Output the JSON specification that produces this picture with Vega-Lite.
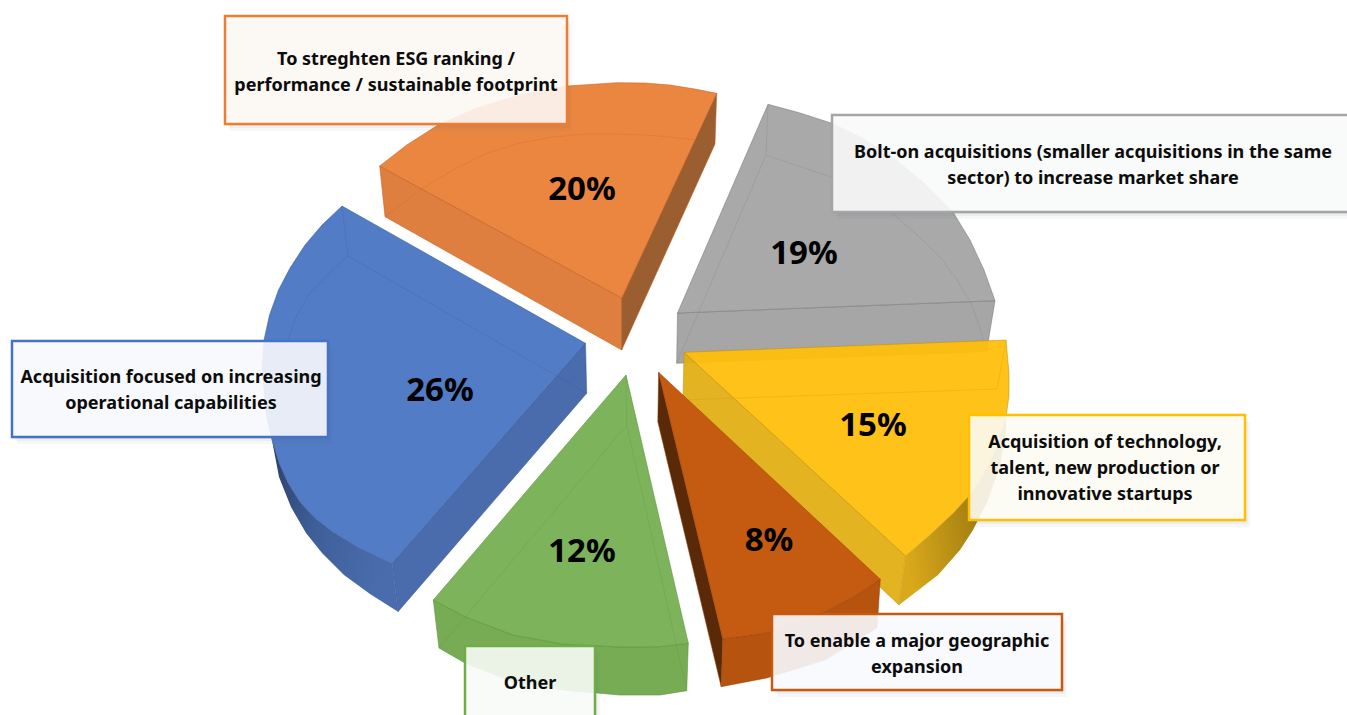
{
  "$schema": "https://vega.github.io/schema/vega-lite/v6.json",
  "width": 1347,
  "height": 715,
  "padding": 0,
  "autosize": {"type": "none"},
  "background": "white",
  "view": {"stroke": null},
  "datasets": {
    "slices": [
      {"slice": "Bolt-on", "share": 0.19, "label": "Bolt-on acquisitions (smaller acquisitions in the same\nsector) to increase market share", "shareX": 804, "shareY": 254, "boxLeft": 832, "boxRight": 1352, "boxTop": 115, "boxBottom": 212, "labelX": 1093, "labelY": 153},
      {"slice": "ESG", "share": 0.20, "label": "To streghten ESG ranking /\nperformance / sustainable footprint", "shareX": 582, "shareY": 190, "boxLeft": 225, "boxRight": 567, "boxTop": 16, "boxBottom": 124, "labelX": 396, "labelY": 60},
      {"slice": "Operational", "share": 0.26, "label": "Acquisition focused on increasing\noperational capabilities", "shareX": 440, "shareY": 391, "boxLeft": 12, "boxRight": 328, "boxTop": 341, "boxBottom": 437, "labelX": 171, "labelY": 378},
      {"slice": "Other", "share": 0.12, "label": "Other", "shareX": 582, "shareY": 552, "boxLeft": 465, "boxRight": 595, "boxTop": 646, "boxBottom": 722, "labelX": 530, "labelY": 684},
      {"slice": "Technology", "share": 0.15, "label": "Acquisition of technology,\ntalent, new production or\ninnovative startups", "shareX": 873, "shareY": 426, "boxLeft": 969, "boxRight": 1245, "boxTop": 415, "boxBottom": 520, "labelX": 1105, "labelY": 443},
      {"slice": "Geographic", "share": 0.08, "label": "To enable a major geographic\nexpansion", "shareX": 769, "shareY": 541, "boxLeft": 772, "boxRight": 1062, "boxTop": 614, "boxBottom": 690, "labelX": 917, "labelY": 642}
    ],
    "faces": [
      {"slice":"Bolt-on","face":"Bolt-on wall","tone":"greyWall","seq":0,"x":677.5,"y":313},
      {"slice":"Bolt-on","face":"Bolt-on wall","tone":"greyWall","seq":1,"x":995,"y":300.7},
      {"slice":"Bolt-on","face":"Bolt-on wall","tone":"greyWall","seq":2,"x":986.5,"y":351.7},
      {"slice":"Bolt-on","face":"Bolt-on wall","tone":"greyWall","seq":3,"x":676.7,"y":363.3},
      {"slice":"Bolt-on","face":"Bolt-on wall","tone":"greyWall","seq":4,"x":677.5,"y":313},
      {"slice":"Bolt-on","face":"Bolt-on top","tone":"greyTop","seq":0,"x":677.5,"y":313},
      {"slice":"Bolt-on","face":"Bolt-on top","tone":"greyTop","seq":1,"x":995,"y":300.7},
      {"slice":"Bolt-on","face":"Bolt-on top","tone":"greyTop","seq":2,"x":984,"y":270},
      {"slice":"Bolt-on","face":"Bolt-on top","tone":"greyTop","seq":3,"x":970,"y":240},
      {"slice":"Bolt-on","face":"Bolt-on top","tone":"greyTop","seq":4,"x":953.6,"y":213},
      {"slice":"Bolt-on","face":"Bolt-on top","tone":"greyTop","seq":5,"x":925,"y":184},
      {"slice":"Bolt-on","face":"Bolt-on top","tone":"greyTop","seq":6,"x":892,"y":156.7},
      {"slice":"Bolt-on","face":"Bolt-on top","tone":"greyTop","seq":7,"x":862,"y":138},
      {"slice":"Bolt-on","face":"Bolt-on top","tone":"greyTop","seq":8,"x":831,"y":123},
      {"slice":"Bolt-on","face":"Bolt-on top","tone":"greyTop","seq":9,"x":800,"y":113},
      {"slice":"Bolt-on","face":"Bolt-on top","tone":"greyTop","seq":10,"x":768,"y":104.3},
      {"slice":"Bolt-on","face":"Bolt-on top","tone":"greyTop","seq":11,"x":677.5,"y":313},
      {"slice":"Bolt-on","face":"Bolt-on back","tone":"edge","seq":0,"x":768,"y":104.3},
      {"slice":"Bolt-on","face":"Bolt-on back","tone":"edge","seq":1,"x":766,"y":155},
      {"slice":"Bolt-on","face":"Bolt-on back","tone":"edge","seq":2,"x":676.7,"y":363.3},
      {"slice":"Bolt-on","face":"Bolt-on rim","tone":"edge","seq":0,"x":766,"y":155},
      {"slice":"Bolt-on","face":"Bolt-on rim","tone":"edge","seq":1,"x":831,"y":177},
      {"slice":"Bolt-on","face":"Bolt-on rim","tone":"edge","seq":2,"x":862,"y":193},
      {"slice":"Bolt-on","face":"Bolt-on rim","tone":"edge","seq":3,"x":892,"y":213},
      {"slice":"Bolt-on","face":"Bolt-on rim","tone":"edge","seq":4,"x":917,"y":235},
      {"slice":"Bolt-on","face":"Bolt-on rim","tone":"edge","seq":5,"x":940,"y":257},
      {"slice":"Bolt-on","face":"Bolt-on rim","tone":"edge","seq":6,"x":957,"y":280},
      {"slice":"Bolt-on","face":"Bolt-on rim","tone":"edge","seq":7,"x":971,"y":303},
      {"slice":"Bolt-on","face":"Bolt-on rim","tone":"edge","seq":8,"x":980,"y":328},
      {"slice":"Bolt-on","face":"Bolt-on rim","tone":"edge","seq":9,"x":986.5,"y":351.7},

      {"slice":"ESG","face":"ESG front","tone":"orangeFront","seq":0,"x":379.7,"y":166},
      {"slice":"ESG","face":"ESG front","tone":"orangeFront","seq":1,"x":621.7,"y":298},
      {"slice":"ESG","face":"ESG front","tone":"orangeFront","seq":2,"x":621.7,"y":350},
      {"slice":"ESG","face":"ESG front","tone":"orangeFront","seq":3,"x":385,"y":216.7},
      {"slice":"ESG","face":"ESG front","tone":"orangeFront","seq":4,"x":379.7,"y":166},
      {"slice":"ESG","face":"ESG side","tone":"orangeSide","seq":0,"x":621.7,"y":298},
      {"slice":"ESG","face":"ESG side","tone":"orangeSide","seq":1,"x":716.7,"y":93.3},
      {"slice":"ESG","face":"ESG side","tone":"orangeSide","seq":2,"x":715,"y":144},
      {"slice":"ESG","face":"ESG side","tone":"orangeSide","seq":3,"x":621.7,"y":350},
      {"slice":"ESG","face":"ESG side","tone":"orangeSide","seq":4,"x":621.7,"y":298},
      {"slice":"ESG","face":"ESG top","tone":"orangeTop","seq":0,"x":621.7,"y":298},
      {"slice":"ESG","face":"ESG top","tone":"orangeTop","seq":1,"x":379.7,"y":166},
      {"slice":"ESG","face":"ESG top","tone":"orangeTop","seq":2,"x":406.7,"y":145},
      {"slice":"ESG","face":"ESG top","tone":"orangeTop","seq":3,"x":438,"y":125},
      {"slice":"ESG","face":"ESG top","tone":"orangeTop","seq":4,"x":477,"y":108},
      {"slice":"ESG","face":"ESG top","tone":"orangeTop","seq":5,"x":520,"y":95},
      {"slice":"ESG","face":"ESG top","tone":"orangeTop","seq":6,"x":567,"y":86},
      {"slice":"ESG","face":"ESG top","tone":"orangeTop","seq":7,"x":616.7,"y":82.7},
      {"slice":"ESG","face":"ESG top","tone":"orangeTop","seq":8,"x":645,"y":83},
      {"slice":"ESG","face":"ESG top","tone":"orangeTop","seq":9,"x":670,"y":85},
      {"slice":"ESG","face":"ESG top","tone":"orangeTop","seq":10,"x":695,"y":89},
      {"slice":"ESG","face":"ESG top","tone":"orangeTop","seq":11,"x":716.7,"y":93.3},
      {"slice":"ESG","face":"ESG top","tone":"orangeTop","seq":12,"x":621.7,"y":298},
      {"slice":"ESG","face":"ESG rim","tone":"edge","seq":0,"x":385,"y":216.7},
      {"slice":"ESG","face":"ESG rim","tone":"edge","seq":1,"x":423,"y":188},
      {"slice":"ESG","face":"ESG rim","tone":"edge","seq":2,"x":455,"y":169},
      {"slice":"ESG","face":"ESG rim","tone":"edge","seq":3,"x":487,"y":153},
      {"slice":"ESG","face":"ESG rim","tone":"edge","seq":4,"x":520,"y":143},
      {"slice":"ESG","face":"ESG rim","tone":"edge","seq":5,"x":553,"y":137},
      {"slice":"ESG","face":"ESG rim","tone":"edge","seq":6,"x":585,"y":134},
      {"slice":"ESG","face":"ESG rim","tone":"edge","seq":7,"x":617,"y":134},
      {"slice":"ESG","face":"ESG rim","tone":"edge","seq":8,"x":645,"y":135},
      {"slice":"ESG","face":"ESG rim","tone":"edge","seq":9,"x":670,"y":137},
      {"slice":"ESG","face":"ESG rim","tone":"edge","seq":10,"x":695,"y":140},
      {"slice":"ESG","face":"ESG rim","tone":"edge","seq":11,"x":715,"y":144},

      {"slice":"Operational","face":"Operational side","tone":"blueSide","seq":0,"x":585.5,"y":343.3},
      {"slice":"Operational","face":"Operational side","tone":"blueSide","seq":1,"x":392.3,"y":563.3},
      {"slice":"Operational","face":"Operational side","tone":"blueSide","seq":2,"x":398,"y":611.7},
      {"slice":"Operational","face":"Operational side","tone":"blueSide","seq":3,"x":586.7,"y":393.3},
      {"slice":"Operational","face":"Operational side","tone":"blueSide","seq":4,"x":585.5,"y":343.3},
      {"slice":"Operational","face":"Operational top","tone":"blueTop","seq":0,"x":585.5,"y":343.3},
      {"slice":"Operational","face":"Operational top","tone":"blueTop","seq":1,"x":342,"y":206},
      {"slice":"Operational","face":"Operational top","tone":"blueTop","seq":2,"x":322,"y":225},
      {"slice":"Operational","face":"Operational top","tone":"blueTop","seq":3,"x":305,"y":245},
      {"slice":"Operational","face":"Operational top","tone":"blueTop","seq":4,"x":290,"y":268},
      {"slice":"Operational","face":"Operational top","tone":"blueTop","seq":5,"x":278.5,"y":290},
      {"slice":"Operational","face":"Operational top","tone":"blueTop","seq":6,"x":269.5,"y":315},
      {"slice":"Operational","face":"Operational top","tone":"blueTop","seq":7,"x":264,"y":340},
      {"slice":"Operational","face":"Operational top","tone":"blueTop","seq":8,"x":262,"y":367},
      {"slice":"Operational","face":"Operational top","tone":"blueTop","seq":9,"x":264.5,"y":395},
      {"slice":"Operational","face":"Operational top","tone":"blueTop","seq":10,"x":267,"y":418},
      {"slice":"Operational","face":"Operational top","tone":"blueTop","seq":11,"x":272,"y":440},
      {"slice":"Operational","face":"Operational top","tone":"blueTop","seq":12,"x":279,"y":463},
      {"slice":"Operational","face":"Operational top","tone":"blueTop","seq":13,"x":288,"y":483},
      {"slice":"Operational","face":"Operational top","tone":"blueTop","seq":14,"x":300,"y":502},
      {"slice":"Operational","face":"Operational top","tone":"blueTop","seq":15,"x":315,"y":518},
      {"slice":"Operational","face":"Operational top","tone":"blueTop","seq":16,"x":333,"y":532},
      {"slice":"Operational","face":"Operational top","tone":"blueTop","seq":17,"x":358,"y":547},
      {"slice":"Operational","face":"Operational top","tone":"blueTop","seq":18,"x":392.3,"y":563.3},
      {"slice":"Operational","face":"Operational top","tone":"blueTop","seq":19,"x":585.5,"y":343.3},
      {"slice":"Operational","face":"Operational back","tone":"edge","seq":0,"x":342,"y":206},
      {"slice":"Operational","face":"Operational back","tone":"edge","seq":1,"x":348,"y":256},
      {"slice":"Operational","face":"Operational back","tone":"edge","seq":2,"x":586.7,"y":393.3},
      {"slice":"Operational","face":"Operational rim","tone":"edge","seq":0,"x":348,"y":256},
      {"slice":"Operational","face":"Operational rim","tone":"edge","seq":1,"x":328,"y":274},
      {"slice":"Operational","face":"Operational rim","tone":"edge","seq":2,"x":310,"y":293},
      {"slice":"Operational","face":"Operational rim","tone":"edge","seq":3,"x":297,"y":315},
      {"slice":"Operational","face":"Operational rim","tone":"edge","seq":4,"x":288,"y":340},
      {"slice":"Operational","face":"Operational rim","tone":"edge","seq":5,"x":284,"y":365},
      {"slice":"Operational","face":"Operational corner","tone":"edge","seq":0,"x":392.3,"y":563.3},
      {"slice":"Operational","face":"Operational corner","tone":"edge","seq":1,"x":398,"y":611.7},

      {"slice":"Other","face":"Other wall","tone":"greenWall","seq":0,"x":433.3,"y":600},
      {"slice":"Other","face":"Other wall","tone":"greenWall","seq":1,"x":465,"y":616.7},
      {"slice":"Other","face":"Other wall","tone":"greenWall","seq":2,"x":513,"y":635},
      {"slice":"Other","face":"Other wall","tone":"greenWall","seq":3,"x":563,"y":644},
      {"slice":"Other","face":"Other wall","tone":"greenWall","seq":4,"x":620,"y":647},
      {"slice":"Other","face":"Other wall","tone":"greenWall","seq":5,"x":660,"y":646.7},
      {"slice":"Other","face":"Other wall","tone":"greenWall","seq":6,"x":688.3,"y":643.3},
      {"slice":"Other","face":"Other wall","tone":"greenWall","seq":7,"x":686.7,"y":690.7},
      {"slice":"Other","face":"Other wall","tone":"greenWall","seq":8,"x":660,"y":695},
      {"slice":"Other","face":"Other wall","tone":"greenWall","seq":9,"x":620,"y":695},
      {"slice":"Other","face":"Other wall","tone":"greenWall","seq":10,"x":563,"y":690},
      {"slice":"Other","face":"Other wall","tone":"greenWall","seq":11,"x":513,"y":682},
      {"slice":"Other","face":"Other wall","tone":"greenWall","seq":12,"x":465,"y":663},
      {"slice":"Other","face":"Other wall","tone":"greenWall","seq":13,"x":439,"y":648},
      {"slice":"Other","face":"Other wall","tone":"greenWall","seq":14,"x":433.3,"y":600},
      {"slice":"Other","face":"Other top","tone":"greenTop","seq":0,"x":626,"y":375},
      {"slice":"Other","face":"Other top","tone":"greenTop","seq":1,"x":433.3,"y":600},
      {"slice":"Other","face":"Other top","tone":"greenTop","seq":2,"x":465,"y":616.7},
      {"slice":"Other","face":"Other top","tone":"greenTop","seq":3,"x":513,"y":635},
      {"slice":"Other","face":"Other top","tone":"greenTop","seq":4,"x":563,"y":644},
      {"slice":"Other","face":"Other top","tone":"greenTop","seq":5,"x":620,"y":647},
      {"slice":"Other","face":"Other top","tone":"greenTop","seq":6,"x":660,"y":646.7},
      {"slice":"Other","face":"Other top","tone":"greenTop","seq":7,"x":688.3,"y":643.3},
      {"slice":"Other","face":"Other top","tone":"greenTop","seq":8,"x":626,"y":375},
      {"slice":"Other","face":"Other back left","tone":"edge","seq":0,"x":439,"y":648},
      {"slice":"Other","face":"Other back left","tone":"edge","seq":1,"x":626.7,"y":425},
      {"slice":"Other","face":"Other back left","tone":"edge","seq":2,"x":626,"y":375},
      {"slice":"Other","face":"Other back right","tone":"edge","seq":0,"x":626.7,"y":425},
      {"slice":"Other","face":"Other back right","tone":"edge","seq":1,"x":686.7,"y":690.7},

      {"slice":"Technology","face":"Technology front","tone":"yellowFront","seq":0,"x":684,"y":352.3},
      {"slice":"Technology","face":"Technology front","tone":"yellowFront","seq":1,"x":905.6,"y":556},
      {"slice":"Technology","face":"Technology front","tone":"yellowFront","seq":2,"x":899,"y":605},
      {"slice":"Technology","face":"Technology front","tone":"yellowFront","seq":3,"x":683,"y":400},
      {"slice":"Technology","face":"Technology front","tone":"yellowFront","seq":4,"x":684,"y":352.3},
      {"slice":"Technology","face":"Technology top","tone":"yellowTop","seq":0,"x":905.6,"y":556},
      {"slice":"Technology","face":"Technology top","tone":"yellowTop","seq":1,"x":684,"y":352.3},
      {"slice":"Technology","face":"Technology top","tone":"yellowTop","seq":2,"x":1006,"y":340},
      {"slice":"Technology","face":"Technology top","tone":"yellowTop","seq":3,"x":1009,"y":373},
      {"slice":"Technology","face":"Technology top","tone":"yellowTop","seq":4,"x":1009,"y":396},
      {"slice":"Technology","face":"Technology top","tone":"yellowTop","seq":5,"x":1006,"y":416.7},
      {"slice":"Technology","face":"Technology top","tone":"yellowTop","seq":6,"x":998,"y":445},
      {"slice":"Technology","face":"Technology top","tone":"yellowTop","seq":7,"x":984.6,"y":473},
      {"slice":"Technology","face":"Technology top","tone":"yellowTop","seq":8,"x":970,"y":495},
      {"slice":"Technology","face":"Technology top","tone":"yellowTop","seq":9,"x":953.5,"y":513},
      {"slice":"Technology","face":"Technology top","tone":"yellowTop","seq":10,"x":930,"y":535},
      {"slice":"Technology","face":"Technology top","tone":"yellowTop","seq":11,"x":905.6,"y":556},
      {"slice":"Technology","face":"Technology back","tone":"edge","seq":0,"x":683,"y":400},
      {"slice":"Technology","face":"Technology back","tone":"edge","seq":1,"x":997,"y":389},
      {"slice":"Technology","face":"Technology back","tone":"edge","seq":2,"x":1006,"y":340},

      {"slice":"Geographic","face":"Geographic side","tone":"rustSide","seq":0,"x":658.6,"y":372.3},
      {"slice":"Geographic","face":"Geographic side","tone":"rustSide","seq":1,"x":722.8,"y":639},
      {"slice":"Geographic","face":"Geographic side","tone":"rustSide","seq":2,"x":721.2,"y":686.7},
      {"slice":"Geographic","face":"Geographic side","tone":"rustSide","seq":3,"x":657.8,"y":421.7},
      {"slice":"Geographic","face":"Geographic side","tone":"rustSide","seq":4,"x":658.6,"y":372.3},
      {"slice":"Geographic","face":"Geographic wall","tone":"rustWall","seq":0,"x":722.8,"y":639},
      {"slice":"Geographic","face":"Geographic wall","tone":"rustWall","seq":1,"x":766.7,"y":633},
      {"slice":"Geographic","face":"Geographic wall","tone":"rustWall","seq":2,"x":825,"y":611.7},
      {"slice":"Geographic","face":"Geographic wall","tone":"rustWall","seq":3,"x":855,"y":596},
      {"slice":"Geographic","face":"Geographic wall","tone":"rustWall","seq":4,"x":880.3,"y":579.3},
      {"slice":"Geographic","face":"Geographic wall","tone":"rustWall","seq":5,"x":877,"y":628},
      {"slice":"Geographic","face":"Geographic wall","tone":"rustWall","seq":6,"x":825,"y":660},
      {"slice":"Geographic","face":"Geographic wall","tone":"rustWall","seq":7,"x":766.7,"y":678},
      {"slice":"Geographic","face":"Geographic wall","tone":"rustWall","seq":8,"x":721.2,"y":686.7},
      {"slice":"Geographic","face":"Geographic wall","tone":"rustWall","seq":9,"x":722.8,"y":639},
      {"slice":"Geographic","face":"Geographic top","tone":"rustTop","seq":0,"x":658.6,"y":372.3},
      {"slice":"Geographic","face":"Geographic top","tone":"rustTop","seq":1,"x":880.3,"y":579.3},
      {"slice":"Geographic","face":"Geographic top","tone":"rustTop","seq":2,"x":855,"y":596},
      {"slice":"Geographic","face":"Geographic top","tone":"rustTop","seq":3,"x":825,"y":611.7},
      {"slice":"Geographic","face":"Geographic top","tone":"rustTop","seq":4,"x":795,"y":624},
      {"slice":"Geographic","face":"Geographic top","tone":"rustTop","seq":5,"x":766.7,"y":633},
      {"slice":"Geographic","face":"Geographic top","tone":"rustTop","seq":6,"x":722.8,"y":639},
      {"slice":"Geographic","face":"Geographic top","tone":"rustTop","seq":7,"x":658.6,"y":372.3}
    ],
    "shadedWalls": [
      {"slice":"Operational","seq":0,"x":272,"y":440},
      {"slice":"Operational","seq":1,"x":279,"y":463},
      {"slice":"Operational","seq":2,"x":288,"y":483},
      {"slice":"Operational","seq":3,"x":300,"y":502},
      {"slice":"Operational","seq":4,"x":315,"y":518},
      {"slice":"Operational","seq":5,"x":333,"y":532},
      {"slice":"Operational","seq":6,"x":358,"y":547},
      {"slice":"Operational","seq":7,"x":392.3,"y":563.3},
      {"slice":"Operational","seq":8,"x":398,"y":611.7},
      {"slice":"Operational","seq":9,"x":370,"y":594},
      {"slice":"Operational","seq":10,"x":344,"y":575},
      {"slice":"Operational","seq":11,"x":322,"y":553},
      {"slice":"Operational","seq":12,"x":306,"y":533},
      {"slice":"Operational","seq":13,"x":291,"y":507},
      {"slice":"Operational","seq":14,"x":279,"y":477},
      {"slice":"Operational","seq":15,"x":272,"y":440},
      {"slice":"Technology","seq":0,"x":1006,"y":416.7},
      {"slice":"Technology","seq":1,"x":998,"y":445},
      {"slice":"Technology","seq":2,"x":984.6,"y":473},
      {"slice":"Technology","seq":3,"x":970,"y":495},
      {"slice":"Technology","seq":4,"x":953.5,"y":513},
      {"slice":"Technology","seq":5,"x":930,"y":535},
      {"slice":"Technology","seq":6,"x":905.6,"y":556},
      {"slice":"Technology","seq":7,"x":899,"y":605},
      {"slice":"Technology","seq":8,"x":938,"y":575},
      {"slice":"Technology","seq":9,"x":960,"y":550},
      {"slice":"Technology","seq":10,"x":973,"y":530},
      {"slice":"Technology","seq":11,"x":988,"y":500},
      {"slice":"Technology","seq":12,"x":1000,"y":465},
      {"slice":"Technology","seq":13,"x":1006,"y":430},
      {"slice":"Technology","seq":14,"x":1006,"y":416.7}
    ]
  },
  "resolve": {"scale": {"fill": "independent", "stroke": "independent"}},
  "layer": [
    {
      "data": {"name": "faces"},
      "mark": {"type": "line", "strokeWidth": 1, "clip": true},
      "encoding": {
        "x": {"field": "x", "type": "quantitative", "scale": {"domain": [0, 1347]}, "axis": null},
        "y": {"field": "y", "type": "quantitative", "scale": {"domain": [715, 0]}, "axis": null},
        "order": {"field": "seq", "type": "quantitative"},
        "detail": {"field": "face"},
        "fill": {
          "field": "tone", "type": "nominal", "legend": null,
          "scale": {
            "domain": ["greyTop", "greyWall", "orangeTop", "orangeFront", "orangeSide", "blueTop", "blueSide", "greenTop", "greenWall", "yellowTop", "yellowFront", "rustTop", "rustWall", "rustSide", "edge"],
            "range": ["#a9a9a9", "#a6a6a6", "#eb8640", "#df7f3f", "#9b5e30", "#527cc6", "#4a6cac", "#7cb35b", "#77ac54", "rgba(255,190,10,0.94)", "rgba(226,174,20,0.94)", "#c55a11", "#b5530f", "#5a2a08", "transparent"]
          }
        },
        "stroke": {
          "field": "slice", "type": "nominal", "legend": null,
          "scale": {
            "domain": ["Bolt-on", "ESG", "Operational", "Other", "Technology", "Geographic"],
            "range": ["rgba(120,120,120,0.55)", "rgba(190,90,30,0.5)", "rgba(50,85,150,0.5)", "rgba(90,150,60,0.6)", "rgba(190,140,10,0.5)", "rgba(150,65,10,0.5)"]
          }
        },
        "strokeOpacity": {"condition": {"test": "datum.tone === 'edge'", "value": 0.4}, "value": 1}
      }
    },
    {
      "data": {"name": "shadedWalls"},
      "transform": [{"filter": "datum.slice === 'Operational'"}],
      "mark": {
        "type": "line", "strokeWidth": 0,
        "fill": {"gradient": "linear", "x1": 0, "y1": 0, "x2": 1, "y2": 0.3, "stops": [{"offset": 0, "color": "#2b4069"}, {"offset": 0.45, "color": "#3f5f99"}, {"offset": 1, "color": "#4a6cac"}]}
      },
      "encoding": {
        "x": {"field": "x", "type": "quantitative", "scale": {"domain": [0, 1347]}, "axis": null},
        "y": {"field": "y", "type": "quantitative", "scale": {"domain": [715, 0]}, "axis": null},
        "order": {"field": "seq", "type": "quantitative"}
      }
    },
    {
      "data": {"name": "shadedWalls"},
      "transform": [{"filter": "datum.slice === 'Technology'"}],
      "mark": {
        "type": "line", "strokeWidth": 0,
        "fill": {"gradient": "linear", "x1": 0, "y1": 0.5, "x2": 1, "y2": 0.2, "stops": [{"offset": 0, "color": "#d9a81b"}, {"offset": 0.6, "color": "#a88212"}, {"offset": 1, "color": "#9a7a14"}]}
      },
      "encoding": {
        "x": {"field": "x", "type": "quantitative", "scale": {"domain": [0, 1347]}, "axis": null},
        "y": {"field": "y", "type": "quantitative", "scale": {"domain": [715, 0]}, "axis": null},
        "order": {"field": "seq", "type": "quantitative"}
      }
    },
    {
      "data": {"name": "slices"},
      "mark": {"type": "text", "font": "Noto Sans", "fontWeight": "bold", "fontSize": 33, "color": "black", "align": "center", "baseline": "middle"},
      "encoding": {
        "x": {"field": "shareX", "type": "quantitative", "scale": {"domain": [0, 1347]}, "axis": null},
        "y": {"field": "shareY", "type": "quantitative", "scale": {"domain": [715, 0]}, "axis": null},
        "text": {"field": "share", "type": "quantitative", "format": ".0%"}
      }
    },
    {
      "data": {"name": "slices"},
      "mark": {"type": "rect", "fill": "#55607a", "fillOpacity": 0.05, "xOffset": 1, "yOffset": 2, "x2Offset": 1, "y2Offset": 2, "clip": true},
      "encoding": {
        "x": {"field": "boxLeft", "type": "quantitative", "scale": {"domain": [0, 1347]}, "axis": null},
        "x2": {"field": "boxRight"},
        "y": {"field": "boxTop", "type": "quantitative", "scale": {"domain": [715, 0]}, "axis": null},
        "y2": {"field": "boxBottom"}
      }
    },
    {
      "data": {"name": "slices"},
      "mark": {"type": "rect", "fill": "#55607a", "fillOpacity": 0.06, "xOffset": 3, "yOffset": 4, "x2Offset": 3, "y2Offset": 4, "clip": true},
      "encoding": {
        "x": {"field": "boxLeft", "type": "quantitative", "scale": {"domain": [0, 1347]}, "axis": null},
        "x2": {"field": "boxRight"},
        "y": {"field": "boxTop", "type": "quantitative", "scale": {"domain": [715, 0]}, "axis": null},
        "y2": {"field": "boxBottom"}
      }
    },
    {
      "data": {"name": "slices"},
      "mark": {"type": "rect", "fill": "#55607a", "fillOpacity": 0.05, "xOffset": 5, "yOffset": 7, "x2Offset": 5, "y2Offset": 7, "clip": true},
      "encoding": {
        "x": {"field": "boxLeft", "type": "quantitative", "scale": {"domain": [0, 1347]}, "axis": null},
        "x2": {"field": "boxRight"},
        "y": {"field": "boxTop", "type": "quantitative", "scale": {"domain": [715, 0]}, "axis": null},
        "y2": {"field": "boxBottom"}
      }
    },
    {
      "data": {"name": "slices"},
      "mark": {"type": "rect", "strokeWidth": 2.5, "fillOpacity": 0.89, "clip": true},
      "encoding": {
        "x": {"field": "boxLeft", "type": "quantitative", "scale": {"domain": [0, 1347]}, "axis": null},
        "x2": {"field": "boxRight"},
        "y": {"field": "boxTop", "type": "quantitative", "scale": {"domain": [715, 0]}, "axis": null},
        "y2": {"field": "boxBottom"},
        "fill": {
          "field": "slice", "type": "nominal", "legend": null,
          "scale": {
            "domain": ["Bolt-on", "ESG", "Operational", "Other", "Technology", "Geographic"],
            "range": ["#fcfcfc", "#fff9f5", "#fafbff", "#fafdf8", "#fffdf5", "#fbfcff"]
          }
        },
        "stroke": {
          "field": "slice", "type": "nominal", "legend": null,
          "scale": {
            "domain": ["Bolt-on", "ESG", "Operational", "Other", "Technology", "Geographic"],
            "range": ["#a5a5a5", "#ed7d31", "#4472c4", "#70ad47", "#ffc000", "#c55a11"]
          }
        }
      }
    },
    {
      "data": {"name": "slices"},
      "mark": {"type": "text", "font": "Noto Sans", "fontWeight": "bold", "fontSize": 18, "color": "#0c0c0c", "align": "center", "baseline": "middle", "lineBreak": "\n", "lineHeight": 26},
      "encoding": {
        "x": {"field": "labelX", "type": "quantitative", "scale": {"domain": [0, 1347]}, "axis": null},
        "y": {"field": "labelY", "type": "quantitative", "scale": {"domain": [715, 0]}, "axis": null},
        "text": {"field": "label"}
      }
    }
  ]
}
